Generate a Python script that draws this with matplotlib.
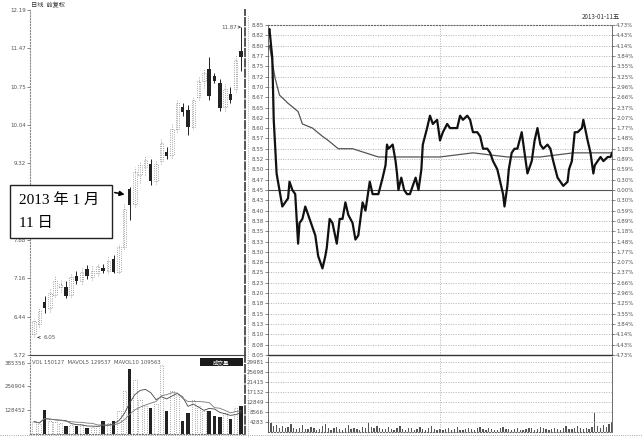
import matplotlib
matplotlib.use('Agg')
import matplotlib.pyplot as plt
from matplotlib.patches import Rectangle
import numpy as np
import pandas as pd

# daily k-line (left panel)
opens = [6.12, 6.30, 6.72, 6.60, 6.85, 7.00, 7.00, 6.85, 7.20, 7.10,
         7.33, 7.18, 7.25, 7.35, 7.30, 7.52, 7.28, 7.75, 8.83, 8.55,
         9.10, 9.25, 9.30, 8.98, 9.35, 9.52, 9.48, 9.95, 10.38, 10.32,
         10.00, 10.55, 10.85, 11.08, 10.95, 10.82, 10.38, 10.62, 10.70, 11.42]
highs = [6.40, 6.62, 6.82, 6.95, 7.20, 7.12, 7.10, 7.25, 7.30, 7.35,
         7.40, 7.38, 7.45, 7.42, 7.55, 7.60, 7.80, 8.55, 8.87, 9.25,
         9.35, 9.45, 9.40, 9.35, 9.78, 9.62, 10.05, 10.52, 10.45, 10.40,
         10.58, 10.95, 11.10, 11.30, 11.00, 10.90, 10.80, 10.75, 11.35, 11.87]
lows = [6.05, 6.25, 6.50, 6.52, 6.80, 6.90, 6.78, 6.80, 7.05, 7.05,
        7.15, 7.12, 7.20, 7.25, 7.25, 7.25, 7.25, 7.70, 8.26, 8.50,
        8.95, 9.10, 8.90, 8.92, 9.30, 9.40, 9.42, 9.90, 10.20, 9.85,
        9.95, 10.50, 10.72, 10.50, 10.82, 10.30, 10.30, 10.45, 10.65, 11.05]
closes = [6.35, 6.55, 6.60, 6.88, 7.10, 7.05, 6.82, 7.18, 7.10, 7.28,
          7.20, 7.30, 7.38, 7.30, 7.48, 7.28, 7.75, 8.45, 8.54, 9.15,
          9.28, 9.38, 8.98, 9.30, 9.70, 9.46, 9.95, 10.45, 10.28, 10.00,
          10.50, 10.85, 11.00, 10.58, 10.85, 10.35, 10.70, 10.50, 11.25, 11.30]
day_vol = [65000, 50000, 128000, 70000, 60000, 55000, 40000, 45000, 42000, 50000,
           28000, 35000, 40000, 67000, 55000, 67000, 120000, 230000, 350000, 290000,
           180000, 150000, 140000, 160000, 370000, 120000, 230000, 210000, 67000, 112000,
           180000, 150000, 120000, 120000, 95000, 90000, 110000, 78000, 140000, 150127]
left_ticks = [5.72, 6.44, 7.16, 7.88, 8.60, 9.32, 10.04, 10.75, 11.47, 12.19]
left_labels = ['5.72', '6.44', '7.16', '7.88', '', '9.32', '10.04', '10.75', '11.47', '12.19']
left_vol_ticks = [128452, 256904, 385356]

# intraday 2013-01-11 (right panel)
prev_close = 8.45
limit_pct = 4.73
tick_min = [0, 1, 3, 4, 6, 8, 10, 12, 14, 15, 17, 19, 21, 22, 24, 26, 28, 31, 33, 35,
            38, 40, 41, 43, 45, 48, 50, 52, 54, 56, 59, 61, 63, 66, 68, 71, 73, 77, 80, 82,
            83, 84, 87, 89, 90, 91, 93, 95, 97, 99, 101, 103, 105, 107, 108, 111, 113, 115, 118, 120,
            122, 125, 127, 129, 132, 134, 136, 139, 141, 143, 146, 148, 150, 153, 155, 157, 160, 162, 164, 165,
            167, 168, 170, 172, 174, 177, 179, 181, 184, 186, 188, 190, 192, 195, 197, 199, 202, 204, 206, 209,
            210, 212, 214, 216, 219, 220, 223, 225, 227, 228, 230, 232, 234, 237, 239, 240]
tick_price = [8.83, 8.84, 8.77, 8.62, 8.49, 8.45, 8.41, 8.42, 8.43, 8.47, 8.45, 8.44, 8.32, 8.37, 8.38, 8.41, 8.39, 8.36, 8.34, 8.29,
              8.26, 8.29, 8.31, 8.38, 8.37, 8.32, 8.38, 8.38, 8.42, 8.39, 8.37, 8.33, 8.34, 8.42, 8.40, 8.47, 8.44, 8.44, 8.48, 8.51,
              8.56, 8.55, 8.56, 8.52, 8.49, 8.45, 8.48, 8.45, 8.44, 8.44, 8.46, 8.48, 8.45, 8.50, 8.56, 8.60, 8.63, 8.61, 8.62, 8.57,
              8.59, 8.61, 8.60, 8.60, 8.60, 8.63, 8.62, 8.63, 8.62, 8.59, 8.59, 8.58, 8.55, 8.55, 8.54, 8.52, 8.50, 8.47, 8.44, 8.41,
              8.46, 8.50, 8.54, 8.55, 8.55, 8.59, 8.54, 8.49, 8.52, 8.57, 8.60, 8.56, 8.55, 8.56, 8.55, 8.52, 8.48, 8.47, 8.46, 8.47,
              8.50, 8.52, 8.59, 8.59, 8.60, 8.62, 8.57, 8.54, 8.49, 8.51, 8.52, 8.53, 8.52, 8.53, 8.53, 8.54]
avg_min = [0, 1, 5, 8, 14, 21, 24, 31, 38, 42, 49, 59, 68, 77, 89, 100, 110, 120, 143, 167, 190, 213, 240]
avg_price = [8.79, 8.80, 8.72, 8.68, 8.66, 8.64, 8.61, 8.60, 8.58, 8.57, 8.55, 8.55, 8.54, 8.53, 8.53, 8.53,
             8.53, 8.53, 8.54, 8.53, 8.53, 8.54, 8.54]
min_vol = [5200, 3800, 2600, 3100, 1800, 2400, 1500, 2200, 3400, 1900,
           1200, 1600, 2800, 1400, 1100, 2000, 1700, 900, 1300, 2500,
           3600, 1500, 1000, 1800, 2200, 1300, 800, 1600, 2900, 1200,
           1900, 1400, 1000, 2300, 1700, 3800, 2100, 1500, 2600, 1800,
           1100, 1400, 2000, 1300, 900, 1600, 2400, 1200, 1000, 1700,
           1500, 800, 1200, 2100, 1400, 1000, 1800, 2700, 1300, 900,
           1100, 700, 1300, 1600, 900, 1200, 2000, 1000, 800, 1400,
           1700, 1100, 900, 1500, 2200, 1300, 1000, 1800, 1200, 800,
           1000, 1500, 2300, 1400, 1100, 900, 1300, 1700, 1000, 800,
           1200, 1900, 1500, 1000, 1300, 2100, 1600, 1100, 900, 1400,
           1800, 1200, 1000, 1500, 2400, 1300, 1100, 1700, 2600, 1500,
           1200, 1900, 1400, 2200, 8200, 2500, 1800, 2900, 2100, 3300, 4100]
right_vol_ticks = [4283, 8566, 12849, 17132, 21415, 25698, 29981]

W, H = 642, 438
TXT = '#555555'
CJK = ['Noto Sans CJK SC', 'DejaVu Sans']


def box(l, t, r, b):
    return [l / W, 1 - b / H, (r - l) / W, (b - t) / H]


def small_ticks(ax):
    ax.tick_params(labelsize=4, colors=TXT, length=2, width=0.5, pad=1)


fig = plt.figure(figsize=(W / 100, H / 100), dpi=100)

# ---- left: daily candles
axk = fig.add_axes(box(30, 10, 245, 355))
o, h, l, c = map(np.array, (opens, highs, lows, closes))
x = np.arange(len(o))
up = c >= o
axk.vlines(x[up], l[up], h[up], color='#8a8a8a', lw=0.6, ls=':')
axk.vlines(x[~up], l[~up], h[~up], color='#222222', lw=0.7)
axk.bar(x[up], np.maximum(c - o, 0.02)[up], bottom=o[up], width=0.65,
        facecolor='white', edgecolor='#8a8a8a', lw=0.6, ls=':')
axk.bar(x[~up], (o - c)[~up], bottom=c[~up], width=0.65, color='#222222')
axk.set_xlim(-0.75, 39.75)
axk.set_ylim(5.72, 12.19)
axk.set_yticks(left_ticks)
axk.set_yticklabels(left_labels)
axk.set_xticks([])
small_ticks(axk)
axk.spines['top'].set_visible(False)
axk.spines['left'].set_linestyle(':')
axk.spines['left'].set_color('#888888')
axk.spines['right'].set_linestyle('--')
axk.spines['right'].set_linewidth(1.4)
axk.spines['right'].set_color('#555555')
axk.spines['bottom'].set_color('#444444')
axk.annotate('11.87', xy=(39, 11.87), xytext=(35.2, 11.87), fontsize=4, color=TXT, va='center',
             arrowprops=dict(arrowstyle='->', color='#333333', lw=0.5))
axk.annotate('6.05', xy=(0.1, 6.05), xytext=(1.9, 6.05), fontsize=4, color=TXT, va='center',
             arrowprops=dict(arrowstyle='->', color='#333333', lw=0.5))
fig.text(31 / W, 1 - 5 / H, '日线  前复权', fontsize=4.5, color='#333333', family=CJK, va='center')

# note box with arrow
fig.add_artist(Rectangle((10 / W, 1 - 238 / H), 102 / W, 53 / H, transform=fig.transFigure,
                         facecolor='white', edgecolor='#222222', lw=1.0))
fig.text(19 / W, 1 - 200 / H, '2013 年 1 月', fontsize=11, va='center',
         family=['Liberation Serif', 'Noto Sans CJK SC'])
fig.text(19 / W, 1 - 224 / H, '11 日', fontsize=11, va='center',
         family=['Liberation Serif', 'Noto Sans CJK SC'])
axk.annotate('', xy=(17.6, 8.72), xytext=(112 / W, 1 - 192 / H), textcoords='figure fraction',
             arrowprops=dict(arrowstyle='-|>', color='black', lw=1.1, mutation_scale=7))

# ---- left: daily volume
axv = fig.add_axes(box(30, 357, 245, 433.5))
dv = np.array(day_vol)
axv.bar(x[up], dv[up], width=0.65, facecolor='white', edgecolor='#8a8a8a', lw=0.6, ls=':')
axv.bar(x[~up], dv[~up], width=0.65, color='#222222')
ma5 = pd.Series(dv).rolling(5, min_periods=1).mean()
ma10 = pd.Series(dv).rolling(10, min_periods=1).mean()
axv.plot(x, ma5, color='#444444', lw=0.6)
axv.plot(x, ma10, color='#777777', lw=0.6)
axv.set_xlim(-0.75, 39.75)
axv.set_ylim(0, 416000)
axv.set_yticks(left_vol_ticks)
axv.set_yticklabels([str(v) for v in left_vol_ticks])
axv.set_xticks([])
small_ticks(axv)
axv.spines['top'].set_visible(False)
axv.spines['left'].set_linestyle(':')
axv.spines['left'].set_color('#888888')
axv.spines['right'].set_linestyle('--')
axv.spines['right'].set_linewidth(1.4)
axv.spines['right'].set_color('#555555')
axv.spines['bottom'].set_linestyle(':')
axv.spines['bottom'].set_color('#777777')
fig.text(32 / W, 1 - 362 / H, 'VOL 150127  MAVOL5 129537  MAVOL10 109563', fontsize=3.8, color=TXT, va='center')
fig.add_artist(Rectangle((200 / W, 1 - 366 / H), 43 / W, 8 / H, transform=fig.transFigure,
                         facecolor='#1a1a1a', edgecolor='none'))
fig.text(221.5 / W, 1 - 362 / H, '成交量', fontsize=4, color='white', family=CJK, ha='center', va='center')

# ---- right: intraday price
lo = prev_close * (1 - limit_pct / 100)
hi = prev_close * (1 + limit_pct / 100)
pct_ticks = np.linspace(-limit_pct, limit_pct, 33)
price_ticks = prev_close * (1 + pct_ticks / 100)

axp = fig.add_axes(box(268, 25, 612, 355))
for yv in price_ticks[1:-1]:
    if abs(yv - prev_close) > 1e-6:
        axp.axhline(yv, color='#9a9a9a', lw=0.5, ls=(0, (1.5, 2)))
axp.axhline(prev_close, color='#555555', lw=0.8)
axp.axvline(120, color='#9a9a9a', lw=0.5, ls=(0, (1.5, 2)))
axp.plot(avg_min, avg_price, color='#555555', lw=0.9)
axp.plot(tick_min, tick_price, color='#111111', lw=1.6)
axp.set_xlim(0, 240)
axp.set_ylim(lo, hi)
axp.set_yticks(price_ticks)
axp.set_yticklabels([f'{v:.2f}' for v in price_ticks])
axp.set_xticks([])
small_ticks(axp)
axp.spines['top'].set_linestyle(':')
axp.spines['top'].set_color('#666666')
axp.spines['bottom'].set_color('#333333')
axp.spines['bottom'].set_linewidth(1.0)
for s in ('left', 'right'):
    axp.spines[s].set_color('#555555')
    axp.spines[s].set_linewidth(0.6)
axr = axp.twinx()
axr.set_ylim(-limit_pct, limit_pct)
axr.set_yticks(pct_ticks)
axr.set_yticklabels([f'{abs(v):.2f}%' for v in pct_ticks])
small_ticks(axr)
for s in axr.spines.values():
    s.set_visible(False)
fig.text(601 / W, 1 - 17 / H, '2013-01-11五', fontsize=4.5, color='#333333', family=CJK, ha='center', va='center')

# ---- right: intraday volume
axm = fig.add_axes(box(268, 357, 612, 432))
vm = np.arange(len(min_vol)) * 2
for yv in right_vol_ticks:
    axm.axhline(yv, color='#9a9a9a', lw=0.5, ls=(0, (1.5, 2)))
axm.axvline(120, color='#9a9a9a', lw=0.5, ls=(0, (1.5, 2)))
axm.bar(vm, min_vol, width=0.9, color='#555555')
axm.set_xlim(0, 240)
axm.set_ylim(0, 32100)
axm.set_yticks(right_vol_ticks)
axm.set_yticklabels([str(v) for v in right_vol_ticks])
axm.set_xticks([])
small_ticks(axm)
axm.spines['top'].set_visible(False)
axm.spines['bottom'].set_linestyle(':')
axm.spines['bottom'].set_color('#666666')
for s in ('left', 'right'):
    axm.spines[s].set_color('#555555')
    axm.spines[s].set_linewidth(0.6)

# frame lines across the figure
fig.add_artist(plt.Line2D([248 / W, 248 / W], [0, 1 - 15 / H], transform=fig.transFigure,
                          color='#999999', lw=0.6, ls=':'))
fig.add_artist(plt.Line2D([0, 1], [1 - 435 / H, 1 - 435 / H], transform=fig.transFigure,
                          color='#888888', lw=0.6, ls=':'))

fig.savefig('out.png', dpi=100)
